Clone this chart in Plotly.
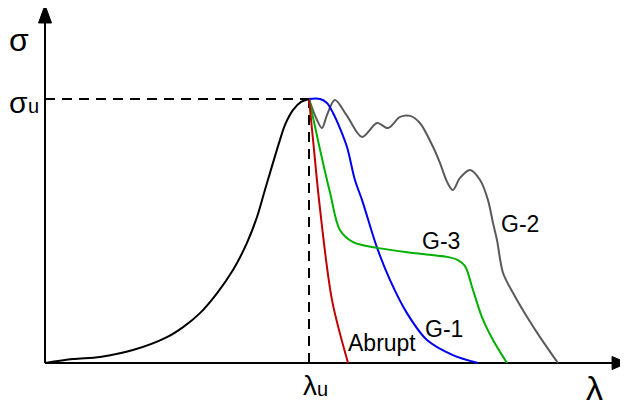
import plotly.graph_objects as go

# Normalised units: lambda / lambda_u , sigma / sigma_u
rise_x = [0.0, 0.106, 0.208, 0.333, 0.462, 0.523, 0.587, 0.652, 0.712, 0.765, 0.803, 0.833, 0.890, 0.909, 0.939, 0.970, 1.0]
rise_y = [0.0, 0.015, 0.023, 0.049, 0.098, 0.136, 0.189, 0.265, 0.352, 0.455, 0.553, 0.655, 0.845, 0.902, 0.958, 0.989, 1.0]

abrupt_x = [1.0, 1.019, 1.038, 1.087, 1.148]
abrupt_y = [1.0, 0.807, 0.617, 0.239, 0.0]

g3_x = [1.0, 1.042, 1.080, 1.117, 1.167, 1.258, 1.394, 1.523, 1.564, 1.591, 1.621, 1.655, 1.697, 1.750]
g3_y = [1.0, 0.807, 0.644, 0.504, 0.458, 0.436, 0.417, 0.402, 0.390, 0.367, 0.277, 0.174, 0.087, 0.0]

g1_x = [1.0, 1.042, 1.068, 1.091, 1.117, 1.144, 1.174, 1.201, 1.258, 1.307, 1.371, 1.447, 1.545, 1.640]
g1_y = [1.0, 1.0, 0.985, 0.947, 0.890, 0.818, 0.693, 0.617, 0.436, 0.314, 0.189, 0.087, 0.030, 0.0]

g2_x = [1.0, 1.027, 1.049, 1.068, 1.098, 1.144, 1.201, 1.258, 1.299, 1.345, 1.383, 1.420, 1.470,
        1.496, 1.523, 1.545, 1.572, 1.610, 1.648, 1.678, 1.697, 1.712, 1.735, 1.773, 1.826, 1.875, 1.943]
g2_y = [1.0, 0.928, 0.890, 0.939, 0.996, 0.936, 0.856, 0.909, 0.890, 0.932, 0.936, 0.909, 0.818,
        0.758, 0.686, 0.655, 0.701, 0.731, 0.693, 0.617, 0.530, 0.466, 0.341, 0.265, 0.174, 0.098, 0.0]

FONT = "Liberation Sans, Arial, sans-serif"

fig = go.Figure()
series = [
    (g2_x, g2_y, "#5a5a5a"),
    (g1_x, g1_y, "#0000ee"),
    (g3_x, g3_y, "#00b000"),
    (abrupt_x, abrupt_y, "#c00000"),
    (rise_x, rise_y, "#000000"),
]
for xs, ys, col in series:
    fig.add_trace(go.Scatter(x=xs, y=ys, mode="lines",
                             line=dict(color=col, width=2, shape="spline", smoothing=0.9),
                             hoverinfo="skip", showlegend=False))

shapes = [
    dict(type="line", x0=0, y0=0, x1=2.15, y1=0, line=dict(color="black", width=2)),
    dict(type="line", x0=0, y0=0, x1=0, y1=1.29, line=dict(color="black", width=2)),
    dict(type="path", path="M 2.148 -0.0246 L 2.205 0 L 2.148 0.0246 Z",
         fillcolor="black", line=dict(color="black", width=1)),
    dict(type="path", path="M -0.0246 1.288 L 0 1.356 L 0.0246 1.288 Z",
         fillcolor="black", line=dict(color="black", width=1)),
    dict(type="line", x0=0, y0=1, x1=1, y1=1, line=dict(color="black", width=2, dash="10px,7px")),
    dict(type="line", x0=1, y0=0, x1=1, y1=1, line=dict(color="black", width=2, dash="10px,7px")),
]
for s in shapes:
    s["layer"] = "below"
fig.update_layout(shapes=shapes)

labels = [
    ("Abrupt", 1.277, 0.076, 23),
    ("G-1", 1.511, 0.129, 23),
    ("G-3", 1.500, 0.462, 23),
    ("G-2", 1.799, 0.527, 23),
    ("σ", -0.098, 1.225, 32),
    ("σ", -0.100, 0.985, 30),
    ("u", -0.045, 0.975, 20),
    ("λ", 1.002, -0.085, 28),
    ("u", 1.050, -0.100, 20),
    ("λ", 2.080, -0.095, 34),
]
for t, x, y, fs in labels:
    fig.add_annotation(text=t, x=x, y=y, xref="x", yref="y", showarrow=False,
                       xanchor="center", yanchor="middle",
                       font=dict(family=FONT, size=fs, color="black"))

# page body has an 8px margin, so the figure is 8px smaller and its ranges start 8px in
fig.update_layout(
    width=620, height=398,
    margin=dict(l=0, r=0, t=0, b=0),
    paper_bgcolor="white", plot_bgcolor="white",
    xaxis=dict(range=[-0.1402, 2.2083], visible=False, fixedrange=True),
    yaxis=dict(range=[-0.1629, 1.3447], visible=False, fixedrange=True),
)

fig.write_html("out.html")
